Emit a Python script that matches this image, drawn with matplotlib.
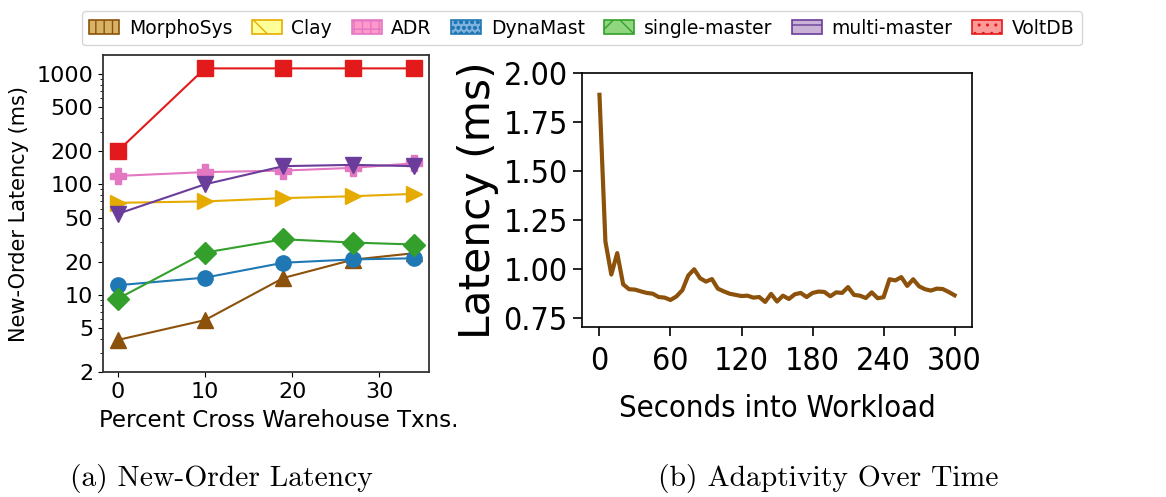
import matplotlib
matplotlib.use("Agg")
import matplotlib.pyplot as plt
from matplotlib.patches import Patch
from matplotlib.ticker import FixedLocator, FixedFormatter, LogLocator, NullFormatter

# ---- systems compared ----
systems = ["MorphoSys", "Clay", "ADR", "DynaMast", "single-master", "multi-master", "VoltDB"]
line_colors = ["#8c510a", "#e6ab02", "#e377c2", "#1f78b4", "#33a02c", "#6a3d9a", "#e31a1c"]
face_colors = ["#d8b365", "#ffff99", "#ff99cc", "#7fb2dc", "#8fd67f", "#cab2d6", "#fb9a99"]
hatches = ["||", "\\", "++", "ooo", "x", "-", ".."]
markers = ["^", ">", "P", "o", "D", "v", "s"]

# ---- (a) new-order latency vs. percent cross-warehouse transactions ----
pct_cross = [0, 10, 19, 27, 34]
lat_morphosys = [3.9, 5.9, 14.2, 20.8, 23.8]
lat_clay = [68, 70, 75, 78, 82]
lat_adr = [119, 129, 133, 141, 155]
lat_dynamast = [12.2, 14.3, 19.5, 20.9, 21.4]
lat_single = [9.2, 24.1, 31.8, 29.7, 28.5]
lat_multi = [54, 100, 146, 150, 146]
lat_voltdb = [200, 1120, 1120, 1120, 1120]
latency_ticks = [2, 5, 10, 20, 50, 100, 200, 500, 1000]
pct_ticks = [0, 10, 20, 30]

# ---- (b) MorphoSys latency over the workload ----
seconds = list(range(0, 301, 5))
adaptive_latency = [
    1.89, 1.14, 0.97, 1.08, 0.92, 0.895, 0.893, 0.884, 0.876, 0.872,
    0.855, 0.852, 0.840, 0.858, 0.890, 0.965, 0.997, 0.951, 0.934, 0.947,
    0.898, 0.884, 0.872, 0.866, 0.860, 0.862, 0.852, 0.855, 0.830, 0.871,
    0.832, 0.862, 0.845, 0.869, 0.876, 0.855, 0.876, 0.883, 0.881, 0.859,
    0.879, 0.876, 0.906, 0.866, 0.862, 0.850, 0.879, 0.849, 0.854, 0.946,
    0.940, 0.957, 0.912, 0.946, 0.910, 0.895, 0.888, 0.898, 0.896, 0.881,
    0.864,
]
time_ticks = [0, 60, 120, 180, 240, 300]
adapt_ticks = [0.75, 1.00, 1.25, 1.50, 1.75, 2.00]

fig = plt.figure(figsize=(11.66, 4.97), dpi=100)

# ---------- left panel ----------
ax1 = fig.add_axes([0.0883, 0.2515, 0.2796, 0.6378])
series = [lat_morphosys, lat_clay, lat_adr, lat_dynamast, lat_single, lat_multi, lat_voltdb]
for vals, col, mk in zip(series, line_colors, markers):
    ax1.plot(pct_cross, vals, color=col, marker=mk, markersize=11, linewidth=1.5)
ax1.set_yscale("log")
ax1.set_ylim(2, 1480)
ax1.yaxis.set_major_locator(FixedLocator(latency_ticks))
ax1.yaxis.set_major_formatter(FixedFormatter([str(t) for t in latency_ticks]))
ax1.yaxis.set_minor_locator(LogLocator(base=10, subs=(3, 4, 6, 7, 8, 9)))
ax1.yaxis.set_minor_formatter(NullFormatter())
ax1.set_xticks(pct_ticks)
ax1.tick_params(labelsize=16, colors="black")
for sp in ax1.spines.values():
    sp.set_color("#333333")
    sp.set_linewidth(1.3)
ax1.set_ylabel("New-Order Latency (ms)", fontsize=15, labelpad=5)
ax1.set_xlabel("Percent Cross Warehouse Txns.", fontsize=16.5, labelpad=5)
ax1.xaxis.label.set_x(0.54)

# ---------- right panel ----------
cond = dict(family="DejaVu Sans", fontstretch="condensed")
ax2 = fig.add_axes([0.4989, 0.3414, 0.335, 0.5111])
ax2.plot(seconds, adaptive_latency, color="#8c510a", linewidth=3)
ax2.set_ylim(0.7, 2.0)
ax2.set_xticks(time_ticks)
ax2.set_xticklabels([str(t) for t in time_ticks], **cond)
ax2.set_yticks(adapt_ticks)
ax2.set_yticklabels(["%.2f" % t for t in adapt_ticks], **cond)
ax2.tick_params(labelsize=23, length=6.5, width=1.2)
ax2.tick_params(axis="x", pad=7)
for sp in ax2.spines.values():
    sp.set_linewidth(1.2)
ax2.set_ylabel("Latency (ms)", fontsize=30.5, family="DejaVu Sans", labelpad=3)
ax2.set_xlabel("Seconds into Workload", fontsize=22.2, labelpad=12, **cond)

# ---------- shared legend ----------
handles = [Patch(facecolor=fc, edgecolor=ec, hatch=h, linewidth=1.2)
           for fc, ec, h in zip(face_colors, line_colors, hatches)]
fig.legend(handles, systems, loc="upper center", bbox_to_anchor=(0.499, 0.996),
           ncol=7, fontsize=13.5, handlelength=1.6, handleheight=0.75,
           handletextpad=0.5, columnspacing=1.05, borderpad=0.4, frameon=True)

# ---------- sub-captions ----------
fig.text(0.19, 0.038, "(a) New-Order Latency", family="cmr10", fontsize=21.3,
         ha="center", va="center")
fig.text(0.71, 0.038, "(b) Adaptivity Over Time", family="cmr10", fontsize=21.3,
         ha="center", va="center")

fig.savefig("out.png", dpi=100)
